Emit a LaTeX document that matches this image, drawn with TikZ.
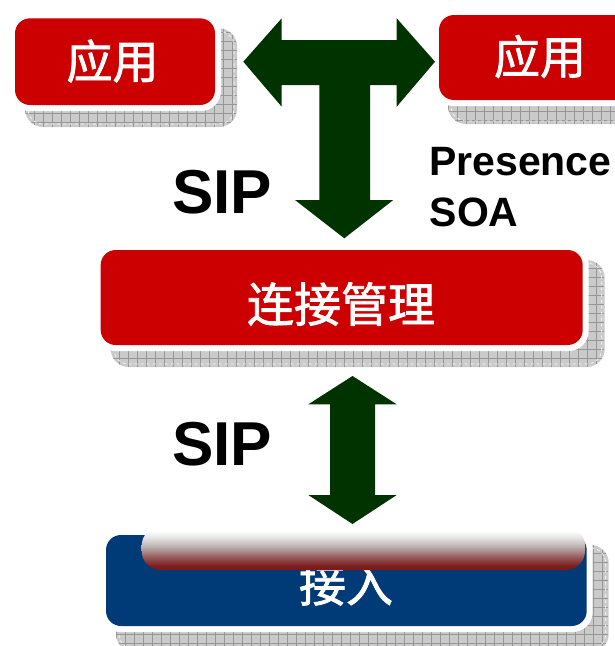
\documentclass[tikz,border=0pt]{standalone}
\usepackage{fontspec}
\setmainfont{Liberation Sans}
\newfontfamily\cjk{Noto Sans CJK SC}[FakeBold=1.6]
\usetikzlibrary{fit}
\definecolor{appred}{RGB}{204,0,0}
\definecolor{accblue}{RGB}{0,59,120}
\definecolor{arrgreen}{RGB}{0,51,0}
\definecolor{shgray}{RGB}{202,202,202}
\definecolor{gridgray}{RGB}{150,150,150}
\definecolor{overred}{RGB}{122,26,26}
\definecolor{glossA}{RGB}{150,90,90}
\definecolor{glossB}{RGB}{188,176,176}
\definecolor{glossC}{RGB}{232,230,230}
\pgfdeclareverticalshading{glossy}{100bp}{color(0bp)=(overred); color(25bp)=(overred); color(29bp)=(overred); color(40bp)=(glossA); color(52bp)=(glossB); color(63bp)=(glossC); color(70bp)=(white); color(75bp)=(white); color(100bp)=(white)}
\tikzset{
  shadowbox/.style={inner sep=0pt, rounded corners=18pt, fill=shgray,
    path picture={\draw[gridgray, line width=0.6pt, step=9pt] (path picture bounding box.south west) grid (path picture bounding box.north east);}},
  shadowdash/.style={inner sep=-3pt, rounded corners=15pt, draw=white, dashed, line width=0.6pt},
  whitebox/.style={inner sep=6pt, rounded corners=20pt, fill=white},
  colbox/.style={inner sep=0pt, rounded corners=15pt},
  cjklbl/.style={text=white, inner sep=0pt, font=\cjk\fontsize{47}{47}\selectfont},
  biglbl/.style={inner sep=0pt, anchor=base west, font=\bfseries\fontsize{62}{62}\selectfont},
  midlbl/.style={inner sep=0pt, anchor=base west, font=\bfseries\fontsize{41}{41}\selectfont},
  arrowfill/.style={fill=arrgreen},
  gloss/.style={inner sep=0pt, rounded corners=19pt, shading=glossy}
}
\begin{document}
\begin{tikzpicture}[x=1pt,y=-1pt]
\useasboundingbox (0,0) rectangle (615,646);
\begin{scope}
\clip (0,0) rectangle (615,646);
% shadows
\node[shadowbox, fit={(25,28.3)(237,127)}] (sh1) {};
\node[shadowdash, fit={(25,28.3)(237,127)}] (sd1) {};
\node[shadowbox, fit={(448,26)(660,124)}] (sh2) {};
\node[shadowdash, fit={(448,26)(660,124)}] (sd2) {};
\node[shadowbox, fit={(110.7,260)(604.7,367)}] (sh3) {};
\node[shadowdash, fit={(110.7,260)(604.7,367)}] (sd3) {};
\node[shadowbox, fit={(116,545)(608.7,652)}] (sh4) {};
\node[shadowdash, fit={(116,545)(608.7,652)}] (sd4) {};
% white outlines
\node[whitebox, fit={(15,18.3)(215,105)}] (w1) {};
\node[whitebox, fit={(439,15)(639,100)}] (w2) {};
\node[whitebox, fit={(100.7,250)(582.7,345)}] (w3) {};
\node[whitebox, fit={(106,535)(586.7,626)}] (w4) {};
% boxes
\node[colbox, fill=appred, fit={(15,18.3)(215,105)}] (app1) {};
\node[colbox, fill=appred, fit={(439,15)(639,100)}] (app2) {};
\node[colbox, fill=appred, fit={(100.7,250)(582.7,345)}] (conn) {};
\node[colbox, fill=accblue, fit={(106,535)(586.7,626)}] (acc) {};
% box labels
\node[cjklbl, font=\cjk\fontsize{46}{46}\selectfont] (t1) at (112.5,61) {应用};
\node[cjklbl, font=\cjk\fontsize{46}{46}\selectfont] (t2) at (540,56.5) {应用};
\node[cjklbl] (t3) at (341,304) {连接管理};
\node[cjklbl] (t4) at (346,584) {接入};
% arrows
\fill[arrowfill] (243.3,61.7) -- (281.7,18.3) -- (281.7,40) -- (396.7,40) -- (396.7,18.3)
  -- (435,61.7) -- (396.7,106.7) -- (396.7,85) -- (370,85) -- (370,200) -- (393.3,200)
  -- (344.3,238.3) -- (295,200) -- (319.3,200) -- (319.3,85) -- (281.7,85) -- (281.7,106.7) -- cycle;
\fill[arrowfill] (352.5,376) -- (396.7,404.3) -- (375,404.3) -- (375,495) -- (396.7,495)
  -- (352.5,524) -- (308.3,495) -- (330,495) -- (330,404.3) -- (308.3,404.3) -- cycle;
% glossy bar
\node[gloss, fit={(141.7,526.7)(585,570)}] (bar) {};
% texts
\node[biglbl] (sip1) at (172,213.3) {SIP};
\node[biglbl] (sip2) at (172,465) {SIP};
\node[midlbl] (pres) at (429,175) {Presence};
\node[midlbl] (soa) at (429.5,226.7) {SOA};
\end{scope}
\end{tikzpicture}
\end{document}
